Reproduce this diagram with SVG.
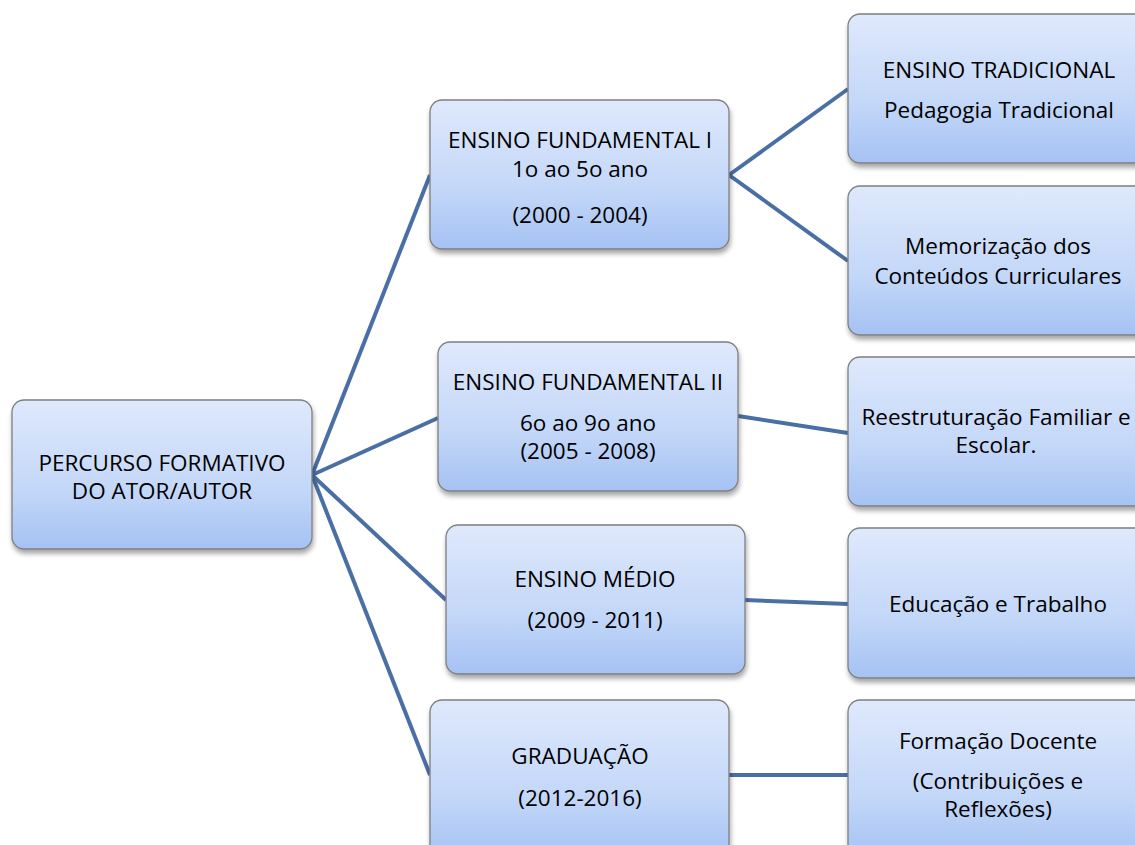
<svg xmlns="http://www.w3.org/2000/svg" width="1135" height="845" viewBox="0 0 1135 845">
<defs>
<linearGradient id="g" x1="0" y1="0" x2="0" y2="1">
<stop offset="0" stop-color="#dfe9fc"/>
<stop offset="0.6" stop-color="#c3d7f8"/>
<stop offset="1" stop-color="#a5c2f3"/>
</linearGradient>
<filter id="sh" x="-10%" y="-10%" width="125%" height="130%">
<feGaussianBlur in="SourceAlpha" stdDeviation="2.5"/>
<feOffset dx="1" dy="4"/>
<feComponentTransfer><feFuncA type="linear" slope="0.35"/></feComponentTransfer>
<feMerge><feMergeNode/><feMergeNode in="SourceGraphic"/></feMerge>
</filter>
</defs>
<style>
.box{fill:url(#g);stroke:#7f7f7f;stroke-width:1.3;filter:url(#sh)}
.t{font-family:"Open Sans","Liberation Sans",sans-serif;font-size:22.5px;fill:#000;text-anchor:middle}
.c{stroke:#4a6fa4;stroke-width:4;fill:none}
</style>
<rect width="1135" height="845" fill="#fff"/>
<g id="connectors">
<line class="c" x1="312" y1="475" x2="430" y2="175"/>
<line class="c" x1="312" y1="475" x2="438" y2="418"/>
<line class="c" x1="312" y1="475" x2="446" y2="600"/>
<line class="c" x1="312" y1="475" x2="430" y2="775"/>
<line class="c" x1="729" y1="175" x2="848" y2="89"/>
<line class="c" x1="729" y1="175" x2="848" y2="261"/>
<line class="c" x1="738" y1="416" x2="848" y2="433"/>
<line class="c" x1="745" y1="600" x2="848" y2="604"/>
<line class="c" x1="729" y1="775" x2="848" y2="775"/>
</g>
<g id="root">
<rect class="box" x="12" y="400" width="300" height="149" rx="12"/>
<text class="t" x="162" y="471">PERCURSO FORMATIVO</text>
<text class="t" x="162" y="499">DO ATOR/AUTOR</text>
</g>
<g id="ef1">
<rect class="box" x="430" y="100" width="299" height="149" rx="12"/>
<text class="t" x="580" y="148">ENSINO FUNDAMENTAL I</text>
<text class="t" x="580" y="177">1o ao 5o ano</text>
<text class="t" x="580" y="223">(2000 - 2004)</text>
</g>
<g id="ef2">
<rect class="box" x="438" y="342" width="300" height="149" rx="12"/>
<text class="t" x="588" y="390">ENSINO FUNDAMENTAL II</text>
<text class="t" x="588" y="431">6o ao 9o ano</text>
<text class="t" x="588" y="459">(2005 - 2008)</text>
</g>
<g id="em">
<rect class="box" x="446" y="525" width="299" height="149" rx="12"/>
<text class="t" x="595" y="587">ENSINO MÉDIO</text>
<text class="t" x="595" y="628">(2009 - 2011)</text>
</g>
<g id="grad">
<rect class="box" x="430" y="700" width="299" height="160" rx="12"/>
<text class="t" x="580" y="764">GRADUAÇÃO</text>
<text class="t" x="580" y="806">(2012-2016)</text>
</g>
<g id="tradicional">
<rect class="box" x="848" y="14" width="300" height="149" rx="12"/>
<text class="t" x="999" y="78">ENSINO TRADICIONAL</text>
<text class="t" x="999" y="118">Pedagogia Tradicional</text>
</g>
<g id="memorizacao">
<rect class="box" x="848" y="186" width="300" height="149" rx="12"/>
<text class="t" x="998" y="254">Memorização dos</text>
<text class="t" x="998" y="284">Conteúdos Curriculares</text>
</g>
<g id="reestruturacao">
<rect class="box" x="848" y="357" width="300" height="149" rx="12"/>
<text class="t" x="996" y="425">Reestruturação Familiar e</text>
<text class="t" x="996" y="453">Escolar.</text>
</g>
<g id="trabalho">
<rect class="box" x="848" y="528" width="300" height="150" rx="12"/>
<text class="t" x="998" y="612">Educação e Trabalho</text>
</g>
<g id="docente">
<rect class="box" x="848" y="700" width="300" height="160" rx="12"/>
<text class="t" x="998" y="749">Formação Docente</text>
<text class="t" x="998" y="789">(Contribuições e</text>
<text class="t" x="998" y="817">Reflexões)</text>
</g>
</svg>
